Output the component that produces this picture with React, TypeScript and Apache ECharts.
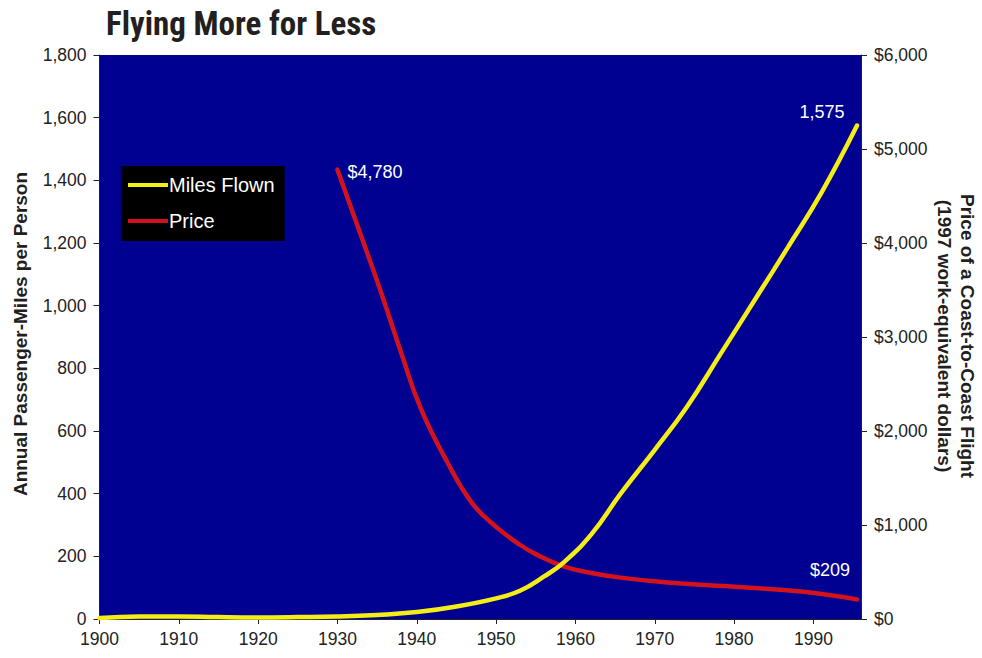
import React, { useEffect, useRef } from "react";
import * as echarts from "echarts";

const years = [1900, 1905, 1910, 1915, 1920, 1925, 1930, 1935, 1940, 1945, 1950, 1953, 1956, 1958.5, 1962, 1965.7, 1970, 1974, 1978.4, 1982.6, 1986.8, 1991, 1995.5];
const milesFlown = [3, 8, 8, 6, 5, 6, 8, 13, 22, 40, 66, 90, 135, 180, 270, 400, 540, 675, 850, 1018, 1187, 1360, 1575];

const priceYears = [1930, 1933.3, 1935.8, 1938, 1940.5, 1943.9, 1947, 1950, 1953, 1955, 1958.5, 1962, 1965.7, 1972, 1980.5, 1988.8, 1995.5];
const priceValues = [4780, 4000, 3400, 2840, 2240, 1660, 1230, 980, 790, 690, 560, 490, 440, 385, 340, 290, 209];

const leftTicks = { min: 0, max: 1800, interval: 200 };
const rightTicks = { min: 0, max: 6000, interval: 1000 };
const xTicks = { min: 1900, max: 1996, interval: 10 };

const fmt = (v: number) => v.toLocaleString("en-US");

export default function App() {
  const ref = useRef<HTMLDivElement>(null);
  useEffect(() => {
    if (!ref.current) return;
    const chart = echarts.init(ref.current, undefined, { renderer: "svg" });
    const family = "Liberation Sans, Arial, sans-serif";
    const axisFont = { fontFamily: family, fontSize: 17.5, color: "#222" };
    const labelFont = { fontFamily: family, fontSize: 18, color: "#fff" };
    const milesData = years.map((y, i) => {
      const d: any = { value: [y, milesFlown[i]] };
      if (i === years.length - 1) {
        d.label = { show: true, position: "top", distance: 5, offset: [-35, 0], formatter: (p: any) => fmt(p.value[1]), ...labelFont };
      }
      return d;
    });
    const priceData = priceYears.map((y, i) => {
      const d: any = { value: [y, priceValues[i]] };
      if (i === 0) {
        d.label = { show: true, position: "right", distance: 10, offset: [0, 2], formatter: (p: any) => "$" + fmt(p.value[1]), ...labelFont };
      }
      if (i === priceYears.length - 1) {
        d.label = { show: true, position: "top", distance: 6, offset: [-27, -14], formatter: (p: any) => "$" + fmt(p.value[1]), ...labelFont };
      }
      return d;
    });
    chart.setOption({
      animation: false,
      backgroundColor: "#fff",
      title: {
        text: "Flying More for Less",
        left: 101,
        top: 2,
        textStyle: { fontFamily: "Liberation Sans Narrow, Roboto Condensed, Liberation Sans, sans-serif", fontSize: 33, fontWeight: "bold", color: "#231f20" },
      },
      grid: { left: 99.5, right: 121, top: 55, bottom: 39, show: true, backgroundColor: "#000091", borderWidth: 0 },
      legend: {
        orient: "vertical",
        left: 121,
        top: 166,
        backgroundColor: "#000",
        padding: [9, 10, 10, 7],
        icon: "rect",
        itemWidth: 40,
        itemHeight: 4,
        itemGap: 16,
        itemStyle: { borderWidth: 0 },
        textStyle: { fontFamily: family, fontSize: 20, color: "#fff", padding: [0, 0, 0, -4] },
        data: ["Miles Flown", "Price"],
      },
      xAxis: {
        type: "value",
        ...xTicks,
        axisLine: { lineStyle: { color: "#222", width: 1 } },
        axisTick: { show: true, length: 5, lineStyle: { color: "#222" } },
        axisLabel: { ...axisFont, margin: 11, showMaxLabel: false, formatter: (v: number) => String(v) },
        splitLine: { show: false },
      },
      yAxis: [
        {
          type: "value",
          ...leftTicks,
          position: "left",
          axisLine: { show: true, lineStyle: { color: "#222" } },
          axisTick: { show: true, length: 6, lineStyle: { color: "#222" } },
          axisLabel: { ...axisFont, margin: 13, formatter: (v: number) => fmt(v) },
          splitLine: { show: false },
        },
        {
          type: "value",
          ...rightTicks,
          position: "right",
          axisLine: { show: true, lineStyle: { color: "#222" } },
          axisTick: { show: true, length: 6, lineStyle: { color: "#222" } },
          axisLabel: { ...axisFont, margin: 13, formatter: (v: number) => "$" + fmt(v) },
          splitLine: { show: false },
        },
      ],
      graphic: [
        {
          type: "text",
          x: 20,
          y: 334,
          rotation: Math.PI / 2,
          style: {
            text: "Annual Passenger-Miles per Person",
            fontFamily: family,
            fontSize: 19,
            fontWeight: "bold",
            fill: "#231f20",
            align: "center",
            verticalAlign: "middle",
          },
        },
        {
          type: "text",
          x: 956,
          y: 336,
          rotation: -Math.PI / 2,
          style: {
            text: "Price of a Coast-to-Coast Flight\n(1997 work-equivalent dollars)",
            fontFamily: family,
            fontSize: 19,
            fontWeight: "bold",
            lineHeight: 23,
            fill: "#231f20",
            align: "center",
            verticalAlign: "middle",
          },
        },
      ],
      series: [
        {
          name: "Miles Flown",
          type: "line",
          yAxisIndex: 0,
          smooth: 0.45,
          symbol: "circle",
          symbolSize: 0,
          showSymbol: true,
          itemStyle: { color: "#f5ee16" },
          lineStyle: { color: "#f5ee16", width: 4.5, cap: "round" },
          data: milesData,
          z: 3,
        },
        {
          name: "Price",
          type: "line",
          yAxisIndex: 1,
          smooth: 0.45,
          symbol: "circle",
          symbolSize: 0,
          showSymbol: true,
          itemStyle: { color: "#d3121c" },
          lineStyle: { color: "#d3121c", width: 4.5, cap: "round" },
          data: priceData,
          z: 2,
        },
      ],
    });
    return () => chart.dispose();
  }, []);
  return <div ref={ref} style={{ position: "fixed", left: 0, top: 0, width: 982, height: 658 }} />;
}
